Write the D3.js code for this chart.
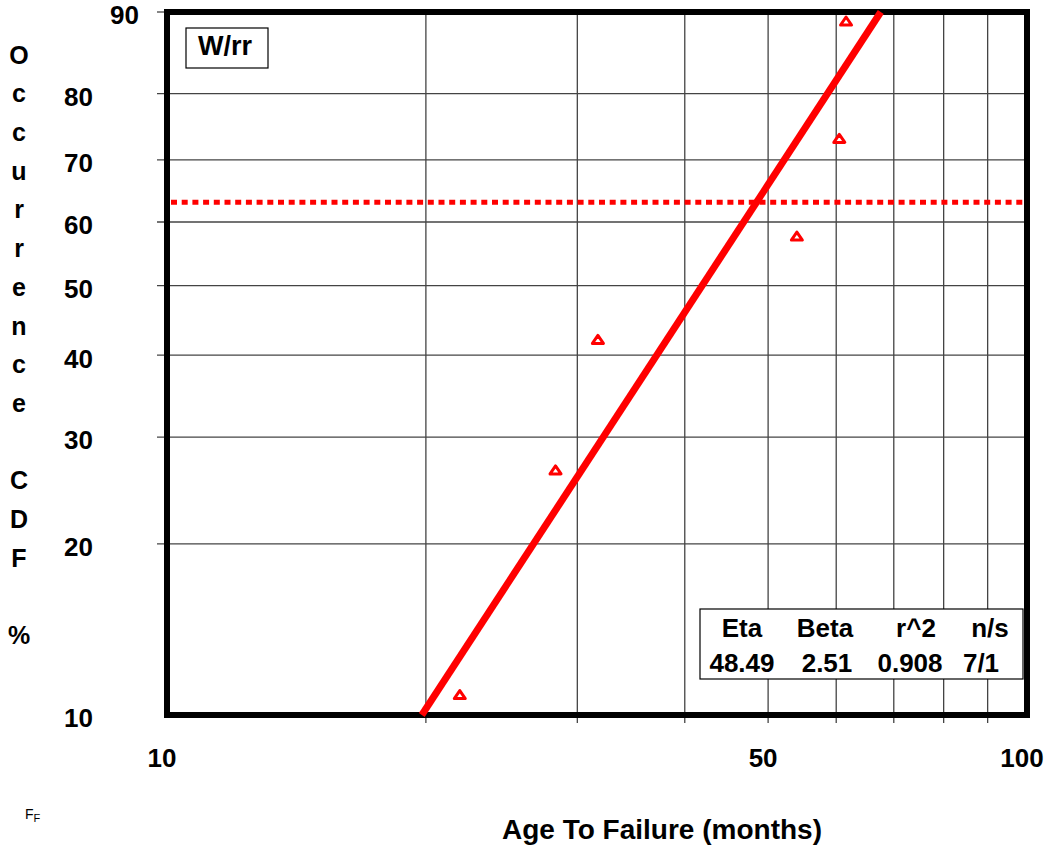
<!DOCTYPE html>
<html><head><meta charset="utf-8">
<script src="https://cdn.jsdelivr.net/npm/d3@7"></script>
<style>
body{margin:0;background:#fff;}
text{font-family:"Liberation Sans",Arial,sans-serif;font-weight:bold;}
</style></head>
<body><svg id="c" width="1049" height="848"></svg>
<script>
// Data
const failTimes = [21.9, 28.3, 31.7, 54.0, 60.5, 61.6];
const cdfPct = [10.9, 26.6, 42.2, 57.8, 73.4, 89.1];
const xTickLabels = [10, 50, 100];
const xGrid = [20, 30, 40, 50, 60, 70, 80, 90];
const yTickLabels = [10, 20, 30, 40, 50, 60, 70, 80, 90];
const legendHeads = ["Eta", "Beta", "r^2", "n/s"];
const legendVals = ["48.49", "2.51", "0.908", "7/1"];
const eta = 48.49, beta = 2.51;
const charLife = 63.2;
const yTitle = "Occurrence CDF %";

const L = 167, R = 1027, T = 12, B = 715;
const svg = d3.select("#c");
const weib = p => Math.log(-Math.log(1 - p / 100));
const x = d3.scaleLog().domain([10, 100]).range([L, R]);
const yl = d3.scaleLinear().domain([weib(10), weib(90)]).range([B, T]);
const y = p => yl(weib(p));

const grid = svg.append("g").attr("stroke", "#444").attr("stroke-width", 1.3);
xGrid.forEach(v => grid.append("line").attr("x1", x(v)).attr("x2", x(v)).attr("y1", T).attr("y2", B + 8));
yTickLabels.slice(1, -1).forEach(v => grid.append("line").attr("x1", L - 10).attr("x2", R).attr("y1", y(v)).attr("y2", y(v)));
grid.append("line").attr("x1", L - 10).attr("x2", L).attr("y1", T).attr("y2", T);

// dotted 63.2 line
svg.append("line").attr("x1", L + 4).attr("x2", R).attr("y1", y(charLife)).attr("y2", y(charLife))
  .attr("stroke", "#ff0000").attr("stroke-width", 5).attr("stroke-dasharray", "6,4.7");

// frame
svg.append("rect").attr("x", L).attr("y", T).attr("width", R - L).attr("height", B - T)
  .attr("fill", "none").attr("stroke", "#000").attr("stroke-width", 6);

// fit line
const tAt = p => eta * Math.pow(-Math.log(1 - p / 100), 1 / beta);
svg.append("line").attr("x1", x(tAt(10))).attr("y1", y(10)).attr("x2", x(tAt(90))).attr("y2", y(90))
  .attr("stroke", "#ff0000").attr("stroke-width", 7);

// points
failTimes.forEach((t, i) => {
  const cx = x(t), cy = y(cdfPct[i]) + 0.5;
  svg.append("path").attr("d", `M${cx - 5.5},${cy + 3.8}L${cx},${cy - 4.2}L${cx + 5.5},${cy + 3.8}Z`)
    .attr("fill", "#fff").attr("stroke", "#ff0000").attr("stroke-width", 3).attr("stroke-linejoin", "round");
});

// y labels (top label sits next to the frame)
yTickLabels.forEach(v => svg.append("text").attr("x", v === 90 ? 139 : 93).attr("y", y(v) + 5.5).attr("text-anchor", "end")
  .attr("dominant-baseline", "middle").attr("font-size", 26).text(v));
// x labels
xTickLabels.forEach(v => svg.append("text").attr("x", x(v) - 5).attr("y", 760).attr("text-anchor", "middle")
  .attr("dominant-baseline", "middle").attr("font-size", 26).text(v));

// y title stacked
const chars = yTitle.split("");
chars.forEach((ch, i) => {
  if (ch === " ") return;
  svg.append("text").attr("x", 19).attr("y", 57 + i * 38.7).attr("text-anchor", "middle")
    .attr("dominant-baseline", "middle").attr("font-size", 25).text(ch);
});

// x title
svg.append("text").attr("x", 662).attr("y", 832).attr("text-anchor", "middle")
  .attr("dominant-baseline", "middle").attr("font-size", 28).text("Age To Failure (months)");

// W/rr box
svg.append("rect").attr("x", 186).attr("y", 28).attr("width", 82).attr("height", 40)
  .attr("fill", "#fff").attr("stroke", "#000").attr("stroke-width", 1.2);
svg.append("text").attr("x", 225).attr("y", 48).attr("text-anchor", "middle")
  .attr("dominant-baseline", "middle").attr("font-size", 27).text("W/rr");

// legend box
svg.append("rect").attr("x", 700).attr("y", 609).attr("width", 323).attr("height", 70)
  .attr("fill", "#fff").attr("stroke", "#000").attr("stroke-width", 1.2);
const colX = [742, 825, 916, 990];
const valX = [742, 827, 910, 981];
legendHeads.forEach((h, i) => svg.append("text").attr("x", colX[i]).attr("y", 630).attr("text-anchor", "middle")
  .attr("dominant-baseline", "middle").attr("font-size", 26).text(h));
legendVals.forEach((h, i) => svg.append("text").attr("x", valX[i]).attr("y", 665).attr("text-anchor", "middle")
  .attr("dominant-baseline", "middle").attr("font-size", 26).text(h));

// FF mark
svg.append("text").attr("x", 25).attr("y", 819).attr("font-size", 14).style("font-weight", "normal").text("F");
svg.append("text").attr("x", 33.5).attr("y", 822).attr("font-size", 11).style("font-weight", "normal").text("F");
// copyright (clipped at the bottom edge)
svg.append("text").attr("x", 22).attr("y", 857).attr("font-size", 12)
  .style("font-family", "'Liberation Serif',serif").text("© Barringer & Associates, Inc. 1998");
</script></body></html>
